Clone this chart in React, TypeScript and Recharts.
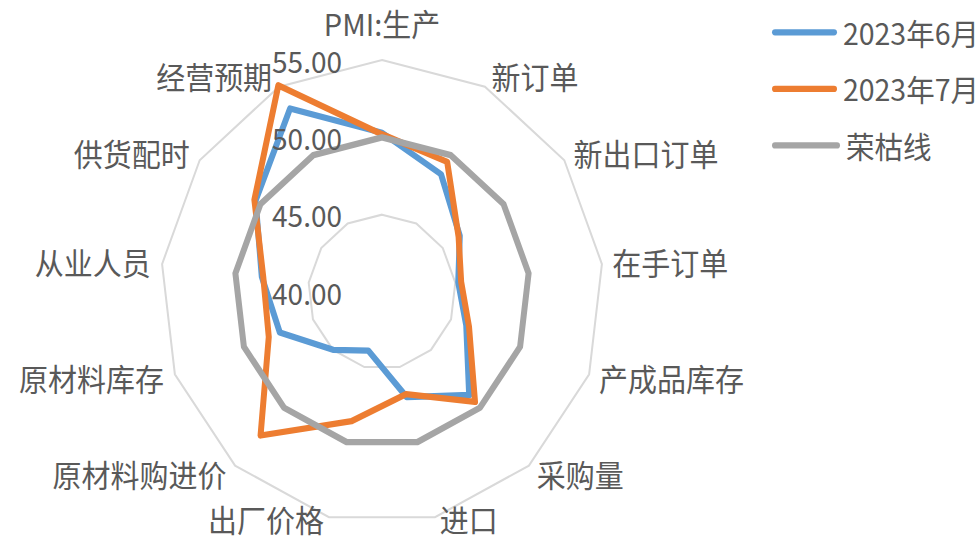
import { RadarChart, Radar, PolarGrid, PolarAngleAxis, PolarRadiusAxis, Legend } from "recharts";

const categories = [
  "PMI:生产",
  "新订单",
  "新出口订单",
  "在手订单",
  "产成品库存",
  "采购量",
  "进口",
  "出厂价格",
  "原材料购进价",
  "原材料库存",
  "从业人员",
  "供货配时",
  "经营预期",
];
const jun2023 = [50.3, 48.6, 46.4, 45.2, 46.1, 48.9, 47.0, 43.9, 45.0, 47.4, 48.2, 50.4, 53.4];
const jul2023 = [50.2, 49.5, 46.3, 45.4, 46.3, 49.5, 46.8, 48.6, 52.4, 48.2, 48.1, 50.5, 55.1];
const boomBust = [50, 50, 50, 50, 50, 50, 50, 50, 50, 50, 50, 50, 50];
const radiusTicks = [40, 45, 50, 55];

const series = [
  { key: "jun", name: "2023年6月", color: "#5B9BD5" },
  { key: "jul", name: "2023年7月", color: "#ED7D31" },
  { key: "line", name: "荣枯线", color: "#A5A5A5" },
];

const data = categories.map((name, i) => ({
  name,
  jun: jun2023[i],
  jul: jul2023[i],
  line: boomBust[i],
}));

const CX = 382;
const CY = 292;
const R = 223;
// the source picture is a little taller than it is wide
const STRETCH = 1.047;
const FONT = '"Noto Sans CJK SC", "Noto Sans", sans-serif';
const TEXT = "#595959";

const AngleTick = (props: any) => {
  const { payload, index } = props;
  const i = payload?.index ?? index;
  const theta = (i * 2 * Math.PI) / categories.length;
  const s = Math.sin(theta);
  const c = Math.cos(theta);
  const vx = CX + R * s;
  const vy = CY - R * c;
  let x = vx;
  let y = vy - 9.5 * c;
  if (c < -0.95) y -= 9; // keep the two bottom labels inside the frame
  let anchor: "start" | "middle" | "end" = "middle";
  if (Math.abs(s) < 0.01) {
    y = vy - 34;
  } else if (s > 0) {
    x = vx + 3 + 6 * s;
    anchor = "start";
  } else {
    x = vx - 3 + 7 * s;
    anchor = "end";
  }
  return (
    <text x={x} y={y} textAnchor={anchor} dominantBaseline="central" fill={TEXT} fontSize={29} fontFamily={FONT}>
      {payload.value}
    </text>
  );
};

const RadiusTick = (props: any) => {
  const { x, y, payload } = props;
  return (
    <text x={x - 40} y={y} textAnchor="end" dominantBaseline="central" fill={TEXT} fontSize={28} fontFamily={FONT}>
      {Number(payload.value).toFixed(2)}
    </text>
  );
};

const LegendContent = () => (
  <div style={{ fontFamily: FONT, fontSize: 28.5, color: TEXT }}>
    {series.map((s) => (
      <div key={s.key} style={{ display: "flex", alignItems: "center", height: 54 }}>
        <span
          style={{ display: "inline-block", width: 68, height: 6, borderRadius: 3, background: s.color, marginRight: 6 }}
        />
        <span style={{ lineHeight: "30px", whiteSpace: "nowrap" }}>{s.name}</span>
      </div>
    ))}
  </div>
);

export default function App() {
  return (
    <div
      style={{ position: "absolute", left: 0, top: 0, width: 979, height: 543, overflow: "hidden", background: "#fff" }}
    >
      <div style={{ transform: `scaleY(${STRETCH})`, transformOrigin: `${CX}px ${CY}px` }}>
        <RadarChart
          width={979}
          height={543}
          cx={CX}
          cy={CY}
          outerRadius={R}
          data={data}
          margin={{ top: 0, right: 0, bottom: 0, left: 0 }}
        >
          <PolarGrid gridType="polygon" radialLines={false} stroke="#D9D9D9" strokeWidth={2} />
          <PolarAngleAxis dataKey="name" tick={AngleTick} axisLine={false} tickLine={false} />
          <PolarRadiusAxis
            angle={90}
            type="number"
            domain={[40, 55]}
            ticks={radiusTicks}
            tick={RadiusTick}
            axisLine={false}
            tickLine={false}
          />
          {series.map((s) => (
            <Radar
              key={s.key}
              name={s.name}
              dataKey={s.key}
              stroke={s.color}
              strokeWidth={6}
              strokeLinejoin="round"
              fill="none"
              fillOpacity={0}
              dot={false}
              isAnimationActive={false}
            />
          ))}
          <Legend content={LegendContent} wrapperStyle={{ left: 772, top: 17, width: 207 }} />
        </RadarChart>
      </div>
    </div>
  );
}
